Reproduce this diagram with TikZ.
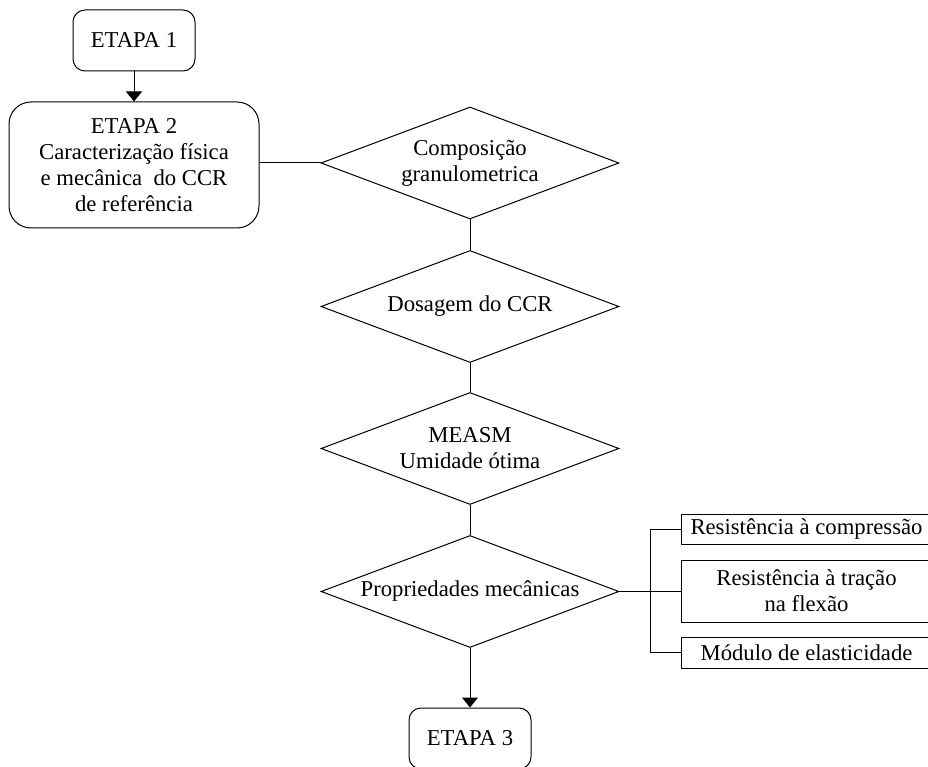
\documentclass[tikz,border=0pt]{standalone}
\usepackage{fontspec}
\setmainfont{Liberation Serif}
\usetikzlibrary{shapes.geometric,arrows.meta}

\tikzset{
  base/.style={draw=black, line width=1pt, inner sep=0pt, align=center,
    font=\fontsize{22.7pt}{26pt}\selectfont},
  etapa/.style={base, rectangle, rounded corners=12pt,
    minimum width=122pt, minimum height=61pt},
  bigetapa/.style={base, rectangle, rounded corners=22pt,
    minimum width=250pt, minimum height=126pt},
  decision/.style={base, diamond, aspect=2.6,
    minimum width=298pt, minimum height=112pt},
  propbox/.style={base, rectangle, minimum width=251pt},
  link/.style={draw=black, line width=1pt},
  flow/.style={link, -{Triangle[width=16pt,length=10pt]}}
}

\begin{document}
\begin{tikzpicture}[x=1pt, y=-1pt]
  \useasboundingbox (0,0) rectangle (928,767);
  \clip (0,0) rectangle (928,767);

  % main column of steps
  \node[etapa] (e1) at (134,40.5) {ETAPA 1};
  \node[bigetapa] (e2) at (134,165)
    {ETAPA 2\\Caracterização física\\e mecânica\ \ do CCR\\de referência};

  \node[decision] (d1) at (470,163) {Composição\\granulometrica};
  \node[decision] (d2) at (470,306.5) {Dosagem do CCR};
  \node[decision] (d3) at (470,448.5) {MEASM\\Umidade ótima};
  \node[decision] (d4) at (470,591.5) {Propriedades mecânicas};

  \node[etapa] (e3) at (470,738.5) {ETAPA 3};

  % mechanical properties
  \node[propbox, minimum height=30pt] (r1) at (806.5,529) {Resistência à compressão};
  \node[propbox, minimum height=62pt] (r2) at (806.5,591) {Resistência à tração\\na flexão};
  \node[propbox, minimum height=31pt] (r3) at (806.5,652.5) {Módulo de elasticidade};

  % connectors
  \draw[flow] (e1.south) -- (e2.north);
  \draw[link] (e2.east |- d1.west) -- (d1.west);
  \draw[link] (d1.south) -- (d2.north);
  \draw[link] (d2.south) -- (d3.north);
  \draw[link] (d3.south) -- (d4.north);
  \draw[flow] (d4.south) -- (e3.north);
  \draw[link] (d4.east) -- (r2.west |- d4.east);

  \coordinate (bus) at (650,0);
  \draw[link] (r1.west) -- (r1.west -| bus) -- (r3.west -| bus) -- (r3.west);
\end{tikzpicture}
\end{document}
